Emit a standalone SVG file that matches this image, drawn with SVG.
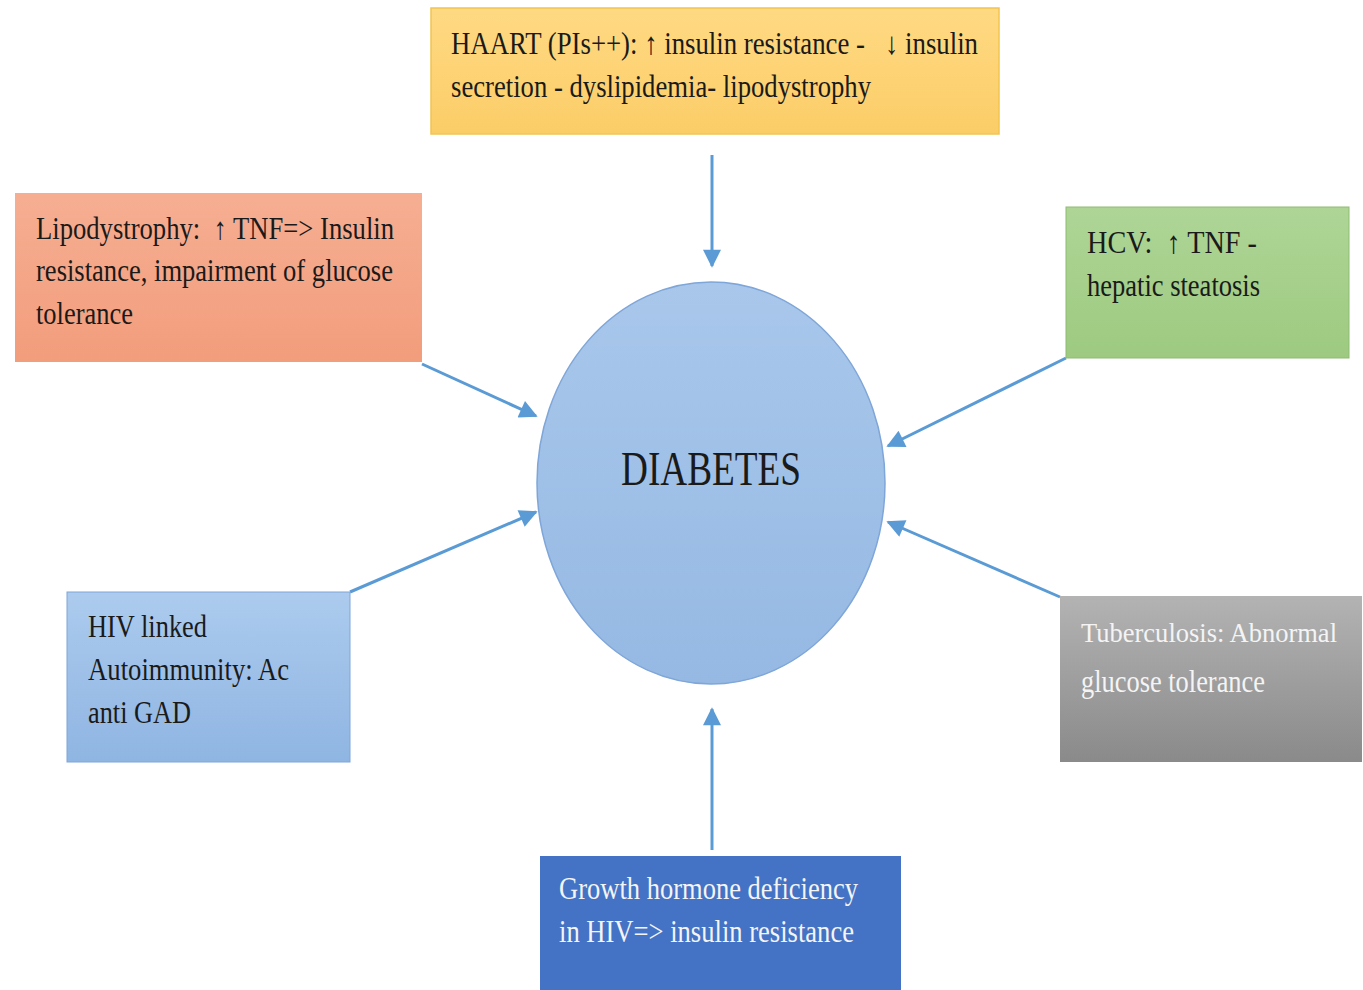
<svg xmlns="http://www.w3.org/2000/svg" width="1363" height="990" viewBox="0 0 1363 990">
<defs>
<linearGradient id="gY" x1="0" y1="0" x2="0" y2="1"><stop offset="0" stop-color="#FFD983"/><stop offset="1" stop-color="#FBCD67"/></linearGradient>
<linearGradient id="gO" x1="0" y1="0" x2="0" y2="1"><stop offset="0" stop-color="#F6AE92"/><stop offset="1" stop-color="#F29D7C"/></linearGradient>
<linearGradient id="gG" x1="0" y1="0" x2="0" y2="1"><stop offset="0" stop-color="#AED596"/><stop offset="1" stop-color="#9DCA80"/></linearGradient>
<linearGradient id="gB" x1="0" y1="0" x2="0" y2="1"><stop offset="0" stop-color="#ACCBEE"/><stop offset="1" stop-color="#8FB5E2"/></linearGradient>
<linearGradient id="gT" x1="0" y1="0" x2="0" y2="1"><stop offset="0" stop-color="#B3B3B3"/><stop offset="1" stop-color="#8A8A8A"/></linearGradient>
<linearGradient id="gE" x1="0" y1="0" x2="0" y2="1"><stop offset="0" stop-color="#A9C7EB"/><stop offset="1" stop-color="#95B9E3"/></linearGradient>
<marker id="ah" viewBox="0 0 10 10" refX="9" refY="5" markerWidth="6.5" markerHeight="6" markerUnits="strokeWidth" orient="auto">
<path d="M0,0 L10,5 L0,10 z" fill="#5B9BD5"/>
</marker>
<style>
.t{font-family:"Liberation Serif","Times New Roman",serif;font-size:31px;fill:#1a1a1a}
.w{fill:#F4F4F4}
.c{stroke:#5B9BD5;stroke-width:3;fill:none;marker-end:url(#ah)}
</style>
</defs>
<rect width="1363" height="990" fill="#FFFFFF"/>
<g id="connectors">
<line class="c" x1="712" y1="155" x2="712" y2="266"/>
<line class="c" x1="422" y1="364" x2="536" y2="416"/>
<line class="c" x1="1066" y1="358" x2="888" y2="446"/>
<line class="c" x1="350" y1="592" x2="536" y2="512"/>
<line class="c" x1="1060" y1="597" x2="888" y2="522"/>
<line class="c" x1="712" y1="850" x2="712" y2="709"/>
</g>
<g id="diabetes">
<ellipse cx="711" cy="483" rx="174" ry="201" fill="url(#gE)" stroke="#7FA6D8" stroke-width="1.5"/>
<text class="t" x="711" y="485" text-anchor="middle" style="font-size:48px" textLength="180" lengthAdjust="spacingAndGlyphs">DIABETES</text>
</g>
<g id="haart">
<rect x="431" y="8" width="568" height="126" fill="url(#gY)" stroke="#F2C451" stroke-width="1.5"/>
<text class="t" x="451" y="54" xml:space="preserve" textLength="527" lengthAdjust="spacingAndGlyphs">HAART (PIs++): ↑ insulin resistance -   ↓ insulin</text>
<text class="t" x="451" y="97" textLength="420" lengthAdjust="spacingAndGlyphs">secretion - dyslipidemia- lipodystrophy</text>
</g>
<g id="lipodystrophy">
<rect x="15" y="193" width="407" height="169" fill="url(#gO)"/>
<text class="t" x="36" y="239" xml:space="preserve" textLength="358" lengthAdjust="spacingAndGlyphs">Lipodystrophy:  ↑ TNF=&gt; Insulin</text>
<text class="t" x="36" y="281" textLength="357" lengthAdjust="spacingAndGlyphs">resistance, impairment of glucose</text>
<text class="t" x="36" y="324" textLength="97" lengthAdjust="spacingAndGlyphs">tolerance</text>
</g>
<g id="hcv">
<rect x="1066" y="207" width="283" height="151" fill="url(#gG)" stroke="#8DBC70" stroke-width="1"/>
<text class="t" x="1087" y="253" xml:space="preserve" textLength="170" lengthAdjust="spacingAndGlyphs">HCV:  ↑ TNF -</text>
<text class="t" x="1087" y="296" textLength="173" lengthAdjust="spacingAndGlyphs">hepatic steatosis</text>
</g>
<g id="hiv">
<rect x="67" y="592" width="283" height="170" fill="url(#gB)" stroke="#7FA6D8" stroke-width="1"/>
<text class="t" x="88" y="637" textLength="119" lengthAdjust="spacingAndGlyphs">HIV linked</text>
<text class="t" x="88" y="680" textLength="201" lengthAdjust="spacingAndGlyphs">Autoimmunity: Ac</text>
<text class="t" x="88" y="723" textLength="103" lengthAdjust="spacingAndGlyphs">anti GAD</text>
</g>
<g id="tuberculosis">
<rect x="1060" y="596" width="302" height="166" fill="url(#gT)"/>
<text class="t w" x="1081" y="642" style="font-size:28px" textLength="256" lengthAdjust="spacingAndGlyphs">Tuberculosis: Abnormal</text>
<text class="t w" x="1081" y="692" textLength="184" lengthAdjust="spacingAndGlyphs">glucose tolerance</text>
</g>
<g id="growth">
<rect x="540" y="856" width="361" height="134" fill="#4472C4"/>
<text class="t w" x="559" y="899" textLength="299" lengthAdjust="spacingAndGlyphs">Growth hormone deficiency</text>
<text class="t w" x="559" y="942" textLength="295" lengthAdjust="spacingAndGlyphs">in HIV=&gt; insulin resistance</text>
</g>
</svg>
